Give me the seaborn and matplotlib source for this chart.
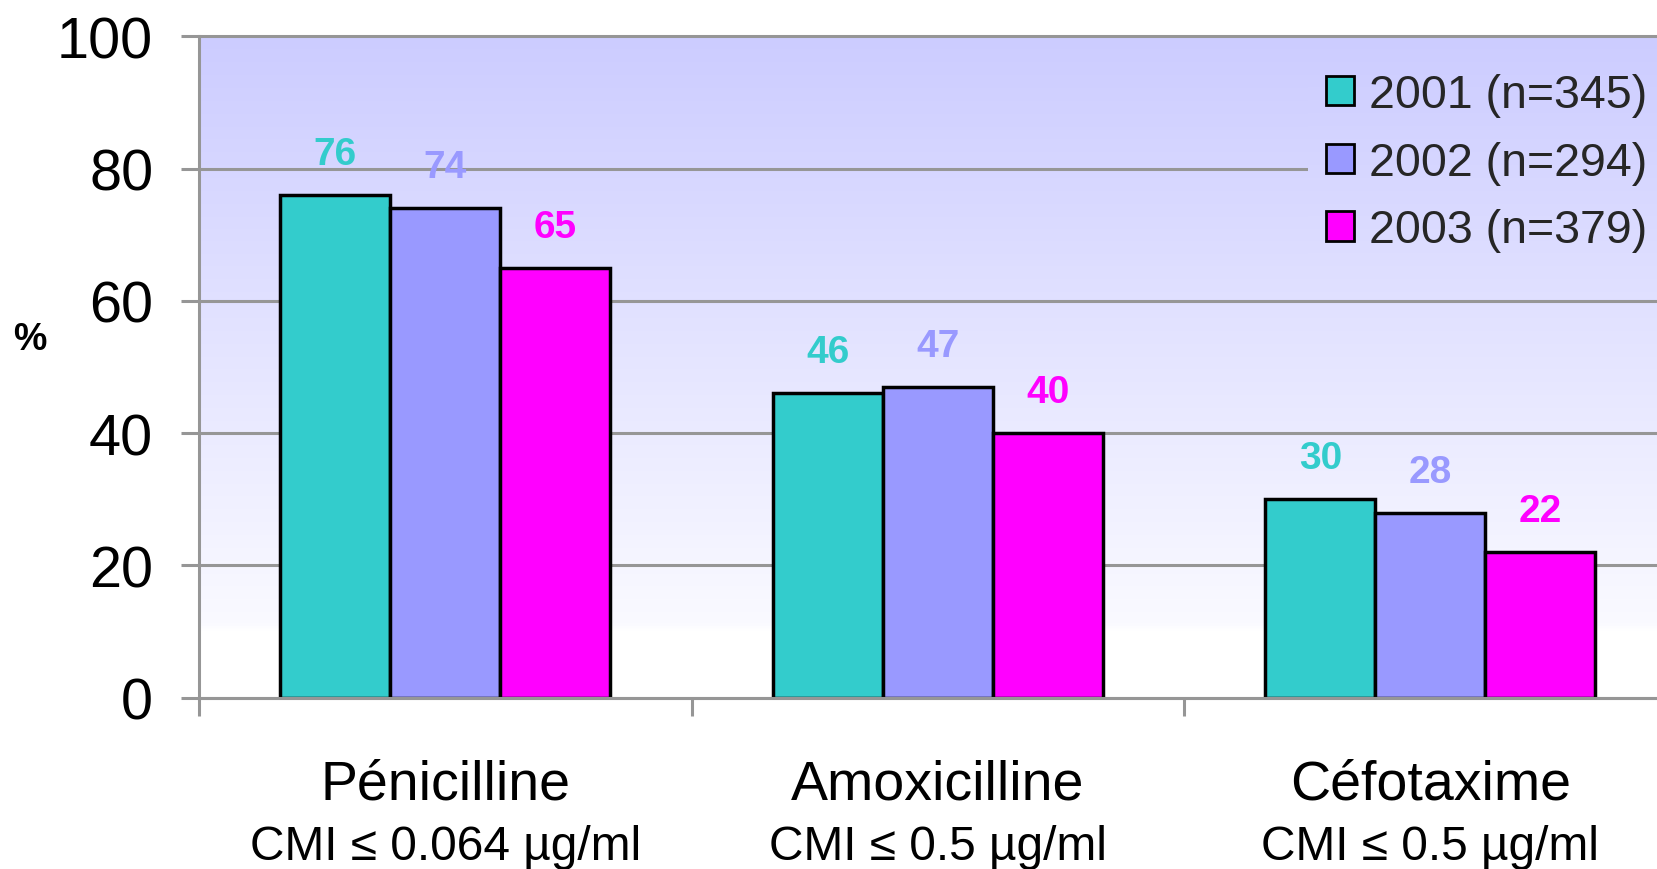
import numpy as np
import pandas as pd
import matplotlib
matplotlib.use("Agg")
import matplotlib.pyplot as plt
from matplotlib.patches import Patch, Rectangle
from matplotlib.colors import LinearSegmentedColormap
from matplotlib.ticker import FixedLocator
import seaborn as sns

# Data
drugs = ["Pénicilline", "Amoxicilline", "Céfotaxime"]
thresholds = ["CMI ≤ 0.064 µg/ml", "CMI ≤ 0.5 µg/ml", "CMI ≤ 0.5 µg/ml"]
years = ["2001 (n=345)", "2002 (n=294)", "2003 (n=379)"]
pct_2001 = [76, 46, 30]
pct_2002 = [74, 47, 28]
pct_2003 = [65, 40, 22]
y_ticks = [0, 20, 40, 60, 80, 100]

colors = ["#33cccc", "#9999ff", "#ff00ff"]
grid_color = "#969696"

df = pd.DataFrame({
    "drug": drugs * 3,
    "year": [y for y in years for _ in drugs],
    "pct": pct_2001 + pct_2002 + pct_2003,
})

sns.set_theme(style="white")
plt.rcParams["font.family"] = ["Liberation Sans", "DejaVu Sans"]

W, H = 1657, 870
fig = plt.figure(figsize=(W / 100, H / 100), dpi=100)
ax_left, ax_right = 199 / W, 1.0
ax_bottom, ax_top = (H - 698.7) / H, (H - 37.3) / H
ax = fig.add_axes([ax_left, ax_bottom, ax_right - ax_left, ax_top - ax_bottom])

# Vertical gradient backdrop: lavender at the top fading to white near the base
grad_cmap = LinearSegmentedColormap.from_list(
    "bg", [(0.0, "#ffffff"), (0.10, "#ffffff"), (0.11, "#fafaff"), (1.0, "#ccccff")])
grad = np.linspace(0, 1, 512).reshape(-1, 1)
ax.imshow(grad, cmap=grad_cmap, aspect="auto", origin="lower",
          extent=[0, 1, 0, 1], transform=ax.transAxes, zorder=0)

sns.barplot(data=df, x="drug", y="pct", hue="year", hue_order=years,
            order=drugs, palette=colors, width=0.67, gap=0,
            edgecolor="black", linewidth=2.5, saturation=1,
            legend=False, ax=ax, zorder=3)

ax.set_xlim(-0.5, 2.46)
ax.set_ylim(0, 100)
ax.set_xlabel("")
ax.set_ylabel("")

# Horizontal gridlines
ax.set_yticks(y_ticks)
ax.yaxis.grid(True, color=grid_color, linewidth=2.2, zorder=1)
ax.xaxis.grid(False)
for gl in ax.get_ygridlines():
    gl.set_clip_on(False)
    gl.set_zorder(1)
ax.set_axisbelow(True)

# Backdrop patch under the legend so the gridline stops at its box
overlay = ax.imshow(grad, cmap=grad_cmap, aspect="auto", origin="lower",
                    extent=[0, 1, 0, 1], transform=ax.transAxes, zorder=1.5)
clip = Rectangle(((1308 - 199) / (W - 199), 0.66), 1.0, 0.33,
                 transform=ax.transAxes, facecolor="none", edgecolor="none")
ax.add_patch(clip)
overlay.set_clip_path(clip)

# Spines and ticks
for side in ["top", "right"]:
    ax.spines[side].set_visible(False)
for side in ["left", "bottom"]:
    ax.spines[side].set_color(grid_color)
    ax.spines[side].set_linewidth(2.2)
    ax.spines[side].set_zorder(4)

ax.tick_params(axis="y", which="major", direction="out", length=13, width=2.2,
               color=grid_color, labelsize=41.5, labelcolor="black", pad=20, left=True)
ax.set_xticks(range(len(drugs)))
ax.set_xticklabels([])
ax.tick_params(axis="x", which="major", length=0)
ax.xaxis.set_minor_locator(FixedLocator([-0.5, 0.5, 1.5, 2.5]))
ax.tick_params(axis="x", which="minor", direction="out", length=13, width=2.2,
               color=grid_color, bottom=True)

# Category labels under the axis
xt = ax.get_xaxis_transform()
for i, (name, sub) in enumerate(zip(drugs, thresholds)):
    ax.text(i, -0.153, name, transform=xt, ha="center", va="baseline",
            fontsize=40, color="black")
    ax.text(i, -0.244, sub, transform=xt, ha="center", va="baseline",
            fontsize=34.5, color="black")

# Value labels above each bar
for container, col in zip(ax.containers, colors):
    for bar in container:
        v = bar.get_height()
        ax.text(bar.get_x() + bar.get_width() / 2, v + 6.2, f"{v:.0f}",
                ha="center", va="center", fontsize=28, fontweight="bold",
                color=col, zorder=5)

# Axis unit
fig.text(30 / W, 1 - 340 / H, "%", ha="center", va="center",
         fontsize=27, fontweight="bold", color="black")

# Legend
handles = [Patch(facecolor=c, edgecolor="black", linewidth=2) for c in colors]
leg = ax.legend(handles, years, loc="upper left",
                bbox_to_anchor=(1326 / W, 1 - 74 / H),
                bbox_transform=fig.transFigure, frameon=False,
                fontsize=33.5, handlelength=0.6, handleheight=0.6,
                handletextpad=0.33, labelspacing=0.51, borderpad=0,
                borderaxespad=0)
leg.set_zorder(6)

fig.savefig("out.png", dpi=100)
